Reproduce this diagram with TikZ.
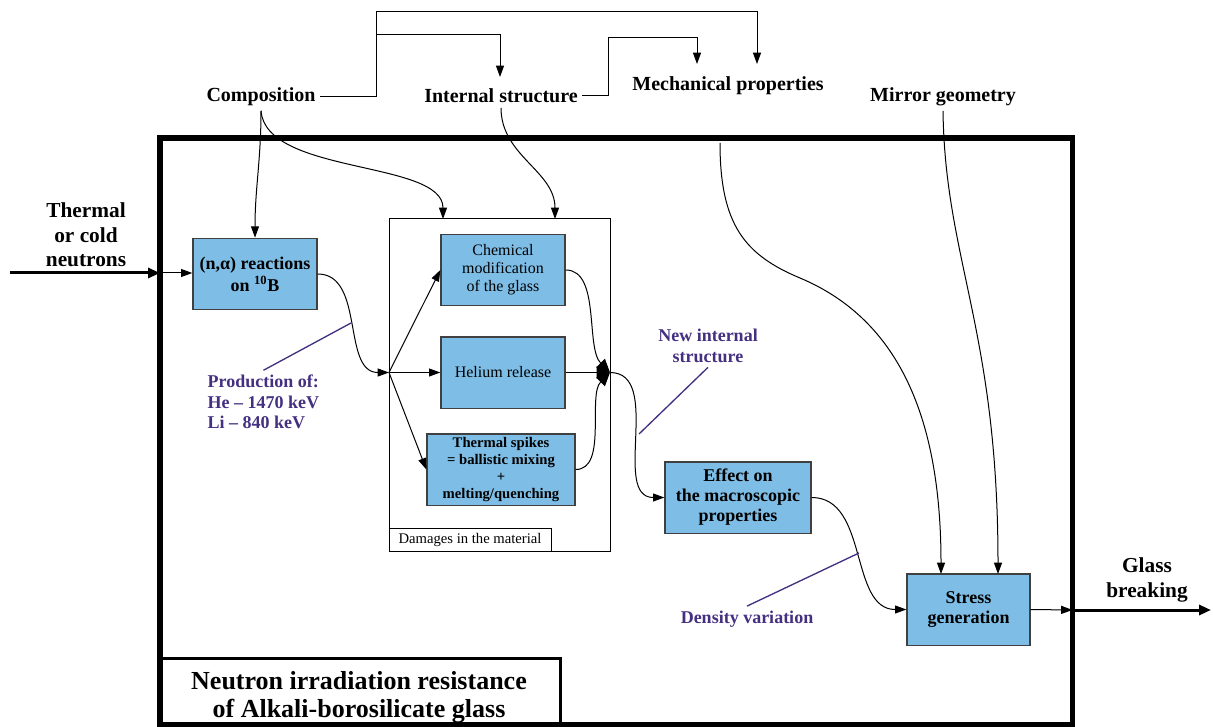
\documentclass[tikz,border=0pt]{standalone}
\usepackage{fontspec}
\setmainfont{Liberation Serif}
\usetikzlibrary{arrows.meta}
\definecolor{boxblue}{RGB}{126,190,230}
\definecolor{notepurple}{RGB}{68,48,128}

\begin{document}
\begin{tikzpicture}[x=0.75pt,y=-0.75pt,
  arr/.style={-{Triangle[length=8.5pt,width=6pt]},line width=0.75pt},
  bigarr/.style={-{Triangle[length=10pt,width=9pt]},line width=0.75pt},
  fatarr/.style={-{Triangle[length=9pt,width=7.5pt]},line width=2.25pt},
  bluebox/.style={draw=black!75,line width=1pt,fill=boxblue,align=center,inner sep=0pt,minimum height=53.5pt},
  toplabel/.style={font=\fontsize{15}{17}\selectfont\bfseries},
  note/.style={text=notepurple,font=\fontsize{13.5}{15.4}\selectfont\bfseries},
  pointer/.style={draw=notepurple,line width=1pt}]
  \useasboundingbox (0,0) rectangle (1213,727);

  \node[draw,line width=4pt,minimum width=684.4pt,minimum height=440.25pt,inner sep=0pt] (frame) at (616.25,431.5) {};
  \node[draw,line width=2.25pt,minimum width=301.5pt,minimum height=58.5pt,align=center,
        font=\fontsize{19.5}{21}\selectfont\bfseries] (title) at (359,697) {Neutron irradiation resistance\\of Alkali-borosilicate glass};

  \node[font=\fontsize{16}{18.4}\selectfont\bfseries,align=center] (neutrons) at (86,235) {Thermal\\or cold\\neutrons};
  \node[font=\fontsize{16}{18.4}\selectfont\bfseries,align=center] (glass) at (1147,580) {Glass\\breaking};

  \node[toplabel] (comp) at (261,97) {Composition};
  \node[toplabel] (internal) at (501,96) {Internal structure};
  \node[toplabel] (mech) at (728,86) {Mechanical properties};
  \node[toplabel] (mirror) at (943,97) {Mirror geometry};

  \node[draw,line width=0.75pt,minimum width=165.75pt,minimum height=249pt,inner sep=0pt] (damages) at (499.5,385) {};
  \node[draw,line width=0.75pt,anchor=south west,minimum width=121.5pt,minimum height=17.25pt,inner sep=0pt,
        font=\fontsize{11}{13}\selectfont] (dmglabel) at (damages.south west) {Damages in the material};

  \node[bluebox,minimum width=93pt,font=\fontsize{13.5}{16.5}\selectfont\bfseries] (nalpha) at (255,274) {(n,α) reactions\\on \textsuperscript{10}B};
  \node[bluebox,minimum width=93pt,font=\fontsize{12}{13.5}\selectfont] (chem) at (503,270) {Chemical\\modification\\of the glass};
  \node[bluebox,minimum width=93pt,font=\fontsize{12}{13.5}\selectfont] (helium) at (503,372.5) {Helium release};
  \node[bluebox,minimum width=111pt,font=\fontsize{11}{12.75}\selectfont\bfseries] (spikes) at (501,469.5) {Thermal spikes\\= ballistic mixing\\+\\melting/quenching};
  \node[bluebox,minimum width=109.5pt,font=\fontsize{13.5}{15}\selectfont\bfseries] (effect) at (738,497.5) {Effect on\\the macroscopic\\properties};
  \node[bluebox,minimum width=92.25pt,font=\fontsize{13.5}{15}\selectfont\bfseries] (stress) at (968.5,609.5) {Stress\\generation};

  \node[note,align=left,anchor=west] (prod) at (203,402) {Production of:\\He – 1470 keV\\Li – 840 keV};
  \node[note,align=center] (newint) at (708,346) {New internal\\structure};
  \node[note] (density) at (747,619) {Density variation};

  \coordinate (instart) at (10,273);
  \coordinate (inport) at (160,273);
  \coordinate (outport) at (1072.5,610);
  \coordinate (outend) at (1211,610);
  \coordinate (split) at (389,372.5);
  \coordinate (merge) at (610,372.5);
  \coordinate (compup) at (376,12);
  \coordinate (compbranch) at (376,35);
  \coordinate (intup) at (608,38);
  \coordinate (intin) at (500,77);
  \coordinate (mechin1) at (697,64);
  \coordinate (mechin2) at (757,64);
  \coordinate (dmgin1) at (443,219);
  \coordinate (dmgin2) at (555,219);
  \coordinate (mechout) at (720,143);
  \coordinate (stressin1) at (941,574);
  \coordinate (stressin2) at (998,574);
  \coordinate (prodtip) at (351,323);
  \coordinate (newtip) at (639,434);
  \coordinate (denstip) at (859,553);

  \draw[fatarr] (instart) -- (inport);
  \draw[arr] (inport) -- (nalpha.west |- inport);

  \draw[arr] (comp.east) -| (compup) -| (mechin2);
  \draw[arr] (compbranch) -| (intin);
  \draw[arr] (internal.east) -| (intup) -| (mechin1);

  \draw[arr] (comp.south) to[out=-90,in=90] (nalpha.north);
  \draw[arr] (comp.south) .. controls (266,175) and (443,160) .. (dmgin1);
  \draw[arr] (internal.south) to[out=-90,in=90] (dmgin2);

  \draw[arr] (nalpha.east) to[out=0,in=180] (split);
  \foreach \to in {chem,helium,spikes}
    \draw[arr] (split) -- (\to.west);

  \draw[bigarr] (chem.east) to[out=0,in=135,looseness=0.8] (merge);
  \draw[bigarr] (helium.east) -- (merge);
  \draw[bigarr] (spikes.east) to[out=0,in=225,looseness=0.8] (merge);

  \draw[arr] (merge) to[out=0,in=180] (effect.west);
  \draw[arr] (effect.east) to[out=0,in=180] (stress.west);

  \draw[arr] (mechout) .. controls (720,225) and (745,255) .. (800,278) .. controls (900,320) and (941,420) .. (stressin1);
  \draw[arr] (mirror.south) .. controls (945,260) and (998,330) .. (stressin2);

  \draw[arr] (stress.east) -- (outport);
  \draw[fatarr] (outport) -- (outend);

  \draw[pointer] (prod.north) -- (prodtip);
  \draw[pointer] (newint.south) -- (newtip);
  \draw[pointer] (density.north) -- (denstip);

\end{tikzpicture}
\end{document}
